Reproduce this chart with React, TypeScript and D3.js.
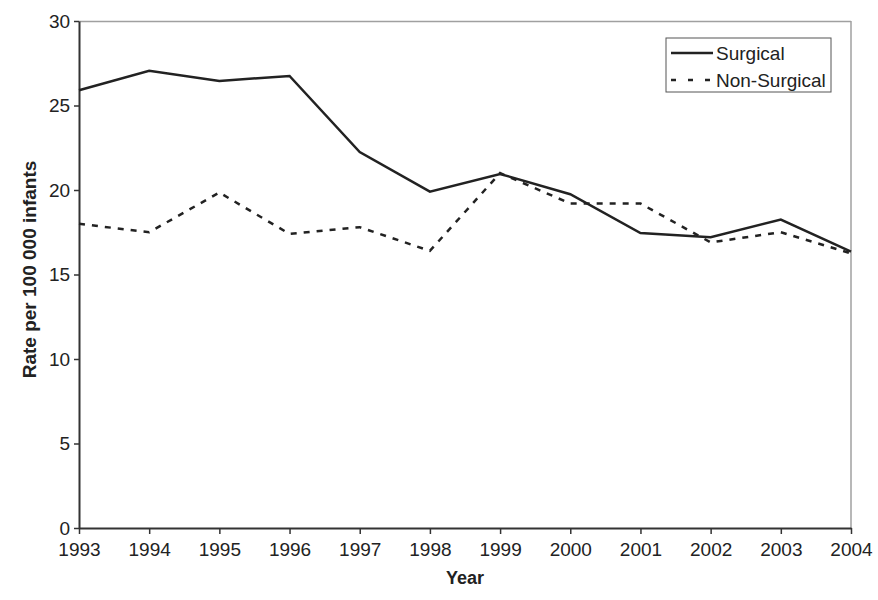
import React, { useEffect, useRef } from 'react';
import * as d3 from 'd3';

const years = [1993, 1994, 1995, 1996, 1997, 1998, 1999, 2000, 2001, 2002, 2003, 2004];
const surgical = [25.9, 27.05, 26.45, 26.75, 22.25, 19.9, 20.95, 19.75, 17.45, 17.2, 18.25, 16.35];
const nonSurgical = [18.0, 17.5, 19.85, 17.4, 17.8, 16.4, 21.0, 19.2, 19.2, 16.9, 17.5, 16.25];
const yTicks = [0, 5, 10, 15, 20, 25, 30];

const App = () => {
  const svgRef = useRef<SVGSVGElement>(null);

  useEffect(() => {
    const svg = d3.select(svgRef.current);
    svg.selectAll('*').remove();
    const margin = { top: 21, right: 27, bottom: 72, left: 79 };
    const width = 878;
    const height = 600;
    const innerWidth = width - margin.left - margin.right;
    const innerHeight = height - margin.top - margin.bottom;
    const font = 'Liberation Sans, Arial, sans-serif';

    const x = d3.scaleLinear().domain([1993, 2004]).range([0, innerWidth]);
    const y = d3.scaleLinear().domain([0, 30]).range([innerHeight, 0]);

    const g = svg.append('g').attr('transform', `translate(${margin.left},${margin.top})`);

    // grey frame on top and right
    g.append('line').attr('x1', 0).attr('x2', innerWidth).attr('y1', 0.5).attr('y2', 0.5)
      .attr('stroke', '#a0a0a0').attr('stroke-width', 1.5);
    g.append('line').attr('x1', innerWidth).attr('x2', innerWidth).attr('y1', 0).attr('y2', innerHeight)
      .attr('stroke', '#a0a0a0').attr('stroke-width', 1.5);

    const xAxis = g.append('g')
      .attr('transform', `translate(0,${innerHeight})`)
      .call(d3.axisBottom(x).tickValues(years).tickFormat(d3.format('d')).tickSize(6).tickSizeOuter(0));
    xAxis.selectAll('text').attr('font-size', 19).attr('font-family', font).attr('fill', '#222').attr('dy', '1.0em');

    const yAxis = g.append('g')
      .call(d3.axisLeft(y).tickValues(yTicks).tickSize(5).tickSizeOuter(0));
    yAxis.selectAll('text').attr('font-size', 19).attr('font-family', font).attr('fill', '#222').attr('dx', '-0.05em');

    g.selectAll('.domain').attr('stroke', '#333').attr('stroke-width', 2);
    g.selectAll('.tick line').attr('stroke', '#333').attr('stroke-width', 1.5);

    const line = d3.line<number>()
      .x((_, i) => x(years[i]))
      .y(d => y(d));

    g.append('path').attr('d', line(surgical))
      .attr('fill', 'none').attr('stroke', '#222').attr('stroke-width', 2.5);
    g.append('path').attr('d', line(nonSurgical))
      .attr('fill', 'none').attr('stroke', '#222').attr('stroke-width', 2.5)
      .attr('stroke-dasharray', '6,7');

    // axis titles
    svg.append('text')
      .attr('x', margin.left + innerWidth / 2).attr('y', 584)
      .attr('text-anchor', 'middle').attr('font-family', font)
      .attr('font-size', 18).attr('font-weight', 'bold').attr('fill', '#222')
      .text('Year');
    svg.append('text')
      .attr('transform', `translate(36,${margin.top + innerHeight / 2 - 5}) rotate(-90)`)
      .attr('text-anchor', 'middle').attr('font-family', font)
      .attr('font-size', 19).attr('font-weight', 'bold').attr('fill', '#222')
      .text('Rate per 100 000 infants');

    // legend
    const legend = svg.append('g').attr('transform', 'translate(666,38)');
    legend.append('rect').attr('width', 165).attr('height', 54)
      .attr('fill', 'white').attr('stroke', '#555').attr('stroke-width', 1);
    const items = [
      { label: 'Surgical', dash: null },
      { label: 'Non-Surgical', dash: '5,12' },
    ];
    items.forEach((it, i) => {
      const yy = 15 + i * 27;
      legend.append('line').attr('x1', 5).attr('x2', 47).attr('y1', yy).attr('y2', yy)
        .attr('stroke', '#222').attr('stroke-width', 2.5)
        .attr('stroke-dasharray', it.dash);
      legend.append('text').attr('x', 50).attr('y', yy + 7)
        .attr('font-family', font).attr('font-size', 19).attr('fill', '#222')
        .text(it.label);
    });
  }, []);

  return <svg ref={svgRef} width={878} height={600} style={{ position: 'absolute', left: 0, top: 0 }} />;
};

export default App;
